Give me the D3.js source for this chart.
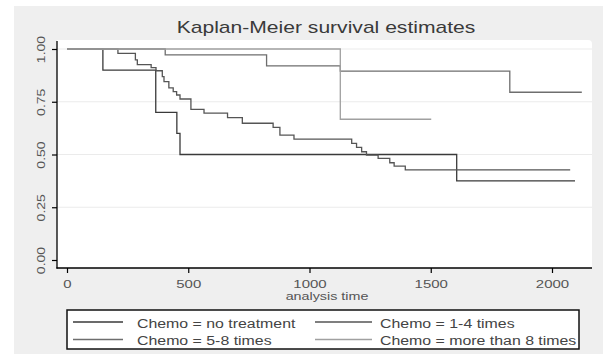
<!DOCTYPE html>
<html><head><meta charset="utf-8">
<script src="https://cdn.jsdelivr.net/npm/d3@7"></script>
<style>
body{margin:0;background:#fff}
svg{display:block}
text{font-family:"Liberation Sans",Arial,sans-serif}
</style>
</head><body>
<svg id="c" width="603" height="362"></svg>
<script>
// ---------------- data ----------------
const title = "Kaplan-Meier survival estimates";
const xLabel = "analysis time";
const categories = ["Chemo = no treatment", "Chemo = 1-4 times", "Chemo = 5-8 times", "Chemo = more than 8 times"];
const xTicks = [0, 500, 1000, 1500, 2000];
const yTicks = [0, 0.25, 0.5, 0.75, 1];

const timeNoTreatment = [0, 148, 366, 453, 466, 1607, 2095];
const survNoTreatment = [1, 0.9, 0.7, 0.6, 0.5, 0.375, 0.375];

const time1to4 = [0, 210, 282, 290, 347, 367, 393, 400, 420, 438, 452, 466, 511, 565, 662, 723, 850, 878, 936, 1174, 1194, 1215, 1235, 1283, 1331, 1349, 1395, 2075];
const surv1to4 = [1, 0.979, 0.948, 0.926, 0.912, 0.897, 0.869, 0.845, 0.816, 0.798, 0.782, 0.763, 0.714, 0.696, 0.675, 0.648, 0.629, 0.592, 0.573, 0.553, 0.534, 0.513, 0.497, 0.482, 0.461, 0.445, 0.427, 0.427];

const time5to8 = [0, 405, 823, 1127, 1826, 2123];
const surv5to8 = [1, 0.972, 0.92, 0.895, 0.795, 0.795];

const timeOver8 = [0, 1127, 1502];
const survOver8 = [1, 0.667, 0.667];

const seriesTimes = [timeNoTreatment, time1to4, time5to8, timeOver8];
const seriesSurv = [survNoTreatment, surv1to4, surv5to8, survOver8];
const seriesColors = ["#3a3a3a", "#555555", "#6e6e6e", "#a0a0a0"];

// ---------------- layout ----------------
const svg = d3.select("#c");
const plot = {left: 57, right: 592, top: 40, bottom: 268};
const x = d3.scaleLinear().domain([0, 2000]).range([67, 552]);
const y = d3.scaleLinear().domain([0, 1]).range([260, 49]);

function stretch(sel, f) {
  sel.each(function () {
    const L = this.getComputedTextLength();
    this.setAttribute("textLength", (L * f).toFixed(1));
    this.setAttribute("lengthAdjust", "spacingAndGlyphs");
  });
}

// background
svg.append("rect").attr("x", 14).attr("y", 6).attr("width", 589).attr("height", 348).attr("fill", "#efefef");
svg.append("path")
  .attr("d", `M${plot.left},${plot.top} H${plot.right - 4} Q${plot.right},${plot.top} ${plot.right},${plot.top + 4} V${plot.bottom} H${plot.left} Z`)
  .attr("fill", "#ffffff");

// gridlines
svg.append("g").selectAll("line").data(yTicks.filter(d => d > 0)).join("line")
  .attr("x1", plot.left).attr("x2", plot.right)
  .attr("y1", d => y(d)).attr("y2", d => y(d))
  .attr("stroke", "#ebebeb").attr("stroke-width", 1.2);

// title
const t = svg.append("text").attr("x", 326).attr("y", 33).attr("text-anchor", "middle")
  .attr("font-size", 17).attr("fill", "#3a3a3a").text(title);
stretch(t, 1.24);

// axes
const yAxis = svg.append("g").attr("transform", `translate(${plot.left},0)`)
  .call(d3.axisLeft(y).tickValues(yTicks).tickFormat(d3.format(".2f")).tickSize(5).tickSizeOuter(0));
yAxis.select(".domain").remove();
yAxis.selectAll(".tick line").attr("stroke", "#000").attr("stroke-width", 1.2);
yAxis.selectAll(".tick text").attr("transform", "rotate(-90)").attr("x", 0).attr("y", -12).attr("dy", 0)
  .attr("text-anchor", "middle").attr("font-size", 11.5).attr("fill", "#555").attr("font-family", null);
stretch(yAxis.selectAll(".tick text"), 1.22);

const xAxis = svg.append("g").attr("transform", `translate(0,${plot.bottom})`)
  .call(d3.axisBottom(x).tickValues(xTicks).tickFormat(d3.format("d")).tickSize(5).tickSizeOuter(0));
xAxis.select(".domain").remove();
xAxis.selectAll(".tick line").attr("stroke", "#000").attr("stroke-width", 1.2);
xAxis.selectAll(".tick text").attr("y", 20).attr("dy", 0).attr("font-size", 11.5).attr("fill", "#555").attr("font-family", null);
stretch(xAxis.selectAll(".tick text"), 1.3);

// axis lines
svg.append("line").attr("x1", plot.left).attr("x2", plot.left).attr("y1", 41).attr("y2", plot.bottom + 0.6)
  .attr("stroke", "#000").attr("stroke-width", 1.3);
svg.append("line").attr("x1", plot.left - 0.6).attr("x2", plot.right).attr("y1", plot.bottom).attr("y2", plot.bottom)
  .attr("stroke", "#000").attr("stroke-width", 1.3);

const xl = svg.append("text").attr("x", 327).attr("y", 299.5).attr("text-anchor", "middle")
  .attr("font-size", 11).attr("fill", "#555").text(xLabel);
stretch(xl, 1.3);

// curves
const line = d3.line().x(d => x(d[0])).y(d => y(d[1])).curve(d3.curveStepAfter);
seriesTimes.forEach((ts, i) => {
  const pts = ts.map((tt, j) => [tt, seriesSurv[i][j]]);
  svg.append("path").attr("d", line(pts)).attr("fill", "none")
    .attr("stroke", seriesColors[i]).attr("stroke-width", 1.3);
});

// legend
const lg = svg.append("g");
lg.append("rect").attr("x", 67).attr("y", 310).attr("width", 512).attr("height", 39)
  .attr("fill", "#fff").attr("stroke", "#111").attr("stroke-width", 1.5);
const colX = [[73, 123, 137], [315, 372, 380]];
const rowY = [[322, 328], [339.5, 345]];
categories.forEach((c, i) => {
  const col = i % 2, row = Math.floor(i / 2);
  lg.append("line").attr("x1", colX[col][0]).attr("x2", colX[col][1])
    .attr("y1", rowY[row][0]).attr("y2", rowY[row][0])
    .attr("stroke", seriesColors[i]).attr("stroke-width", 1.3);
  const tx = lg.append("text").attr("x", colX[col][2]).attr("y", rowY[row][1])
    .attr("font-size", 12.5).attr("fill", "#444").text(c);
  stretch(tx, 1.27);
});
</script>
</body></html>
